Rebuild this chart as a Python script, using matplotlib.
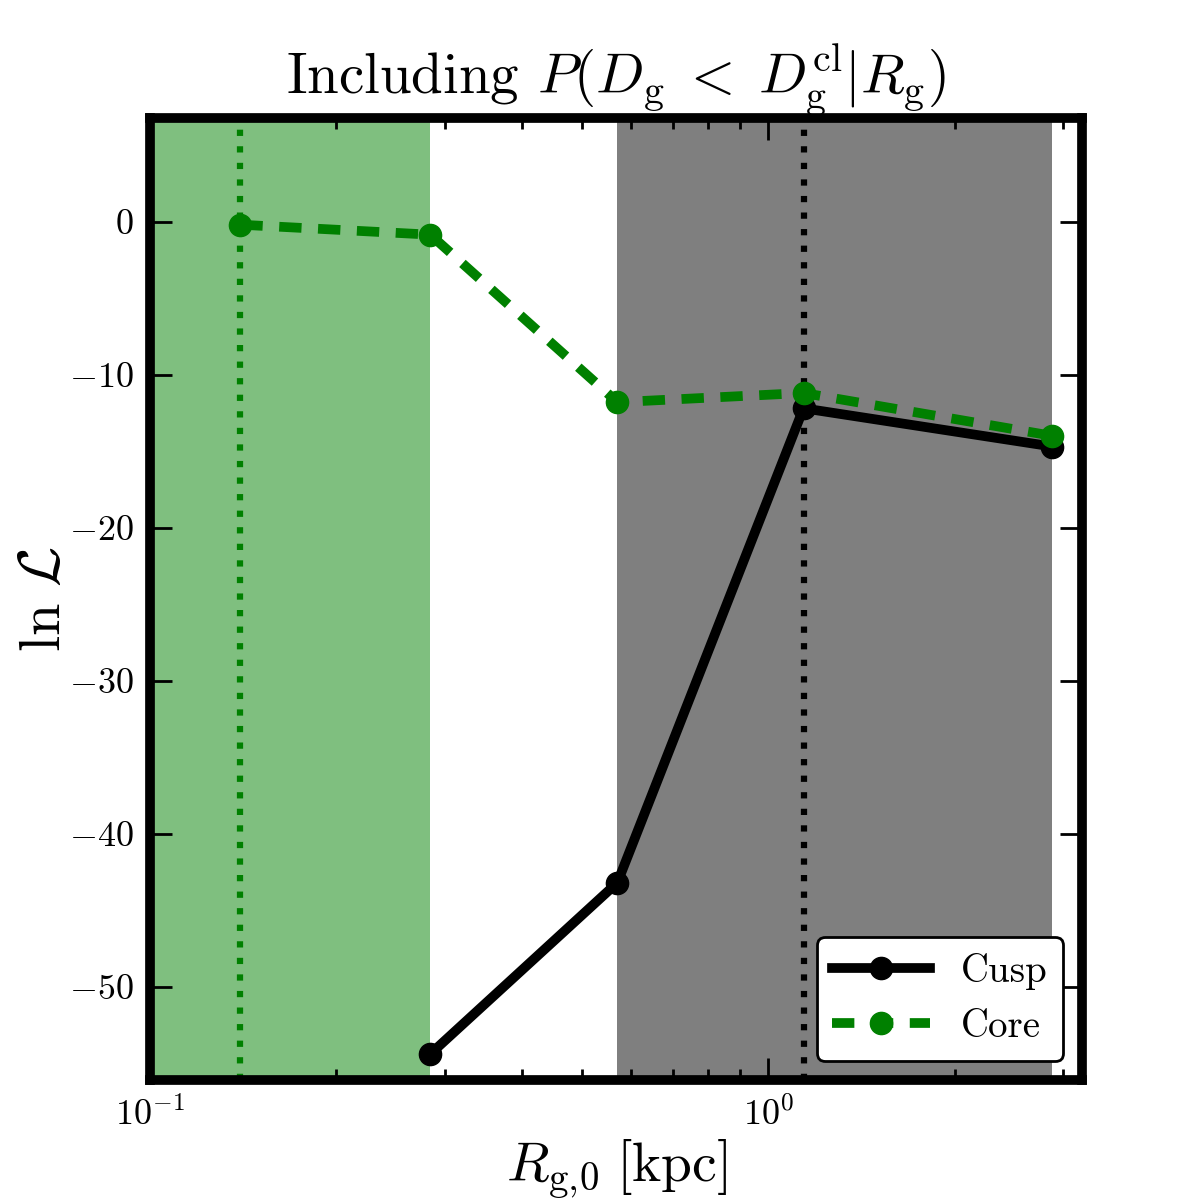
import matplotlib
matplotlib.use("Agg")
import matplotlib.pyplot as plt
from matplotlib.ticker import LogLocator, NullFormatter

plt.rcParams['font.family'] = 'serif'
plt.rcParams['font.serif'] = ['cmr10', 'DejaVu Serif']
plt.rcParams['mathtext.fontset'] = 'cm'
plt.rcParams['axes.formatter.use_mathtext'] = True
plt.rcParams['axes.unicode_minus'] = True

# Data
r_cusp = [0.284, 0.57, 1.14, 2.88]
lnL_cusp = [-54.4, -43.2, -12.2, -14.7]
r_core = [0.14, 0.284, 0.57, 1.14, 2.88]
lnL_core = [-0.2, -0.85, -11.8, -11.2, -14.0]
green_band = [0.1, 0.284]
grey_band = [0.57, 2.88]
core_best = 0.14
cusp_best = 1.14

fig = plt.figure(figsize=(12, 12), dpi=100)
ax = fig.add_axes([0.125, 0.1, 0.777, 0.802])

ax.axvspan(green_band[0], green_band[1], color='green', alpha=0.5, lw=0)
ax.axvspan(grey_band[0], grey_band[1], color='black', alpha=0.5, lw=0)
ax.axvline(core_best, color='green', ls=':', lw=4.5)
ax.axvline(cusp_best, color='black', ls=':', lw=4.5)

ax.plot(r_cusp, lnL_cusp, '-', color='black', lw=7, marker='o', ms=16, label='Cusp')
ax.plot(r_core, lnL_core, color='green', lw=7, marker='o', ms=16, label='Core',
        linestyle=(0, (2.3, 1.7)))

ax.set_xscale('log')
ax.set_xlim(0.1, 3.22)
ax.set_ylim(-56.1, 6.8)
ax.set_yticks([0, -10, -20, -30, -40, -50])

ax.xaxis.set_major_locator(LogLocator(base=10))
ax.xaxis.set_minor_locator(LogLocator(base=10, subs=range(2, 10)))
ax.xaxis.set_minor_formatter(NullFormatter())

for s in ax.spines.values():
    s.set_linewidth(7)
ax.tick_params(which='both', direction='in', top=True, right=True)
ax.tick_params(which='major', length=16, width=2, labelsize=26, pad=12)
ax.tick_params(which='minor', length=8, width=2)

ax.set_xlabel(r'$R_{{\rm g},\!0}\;[{\rm kpc}]$', fontsize=40, labelpad=4)
ax.set_ylabel(r'$\ln\,\mathcal{L}$', fontsize=42, labelpad=-2)
ax.set_title(r'Including $P(D_{\rm g}\;<\;D_{\rm g}^{\rm cl}|R_{\rm g})$', fontsize=41, pad=14)

leg = ax.legend(loc='lower right', fontsize=28, framealpha=1, edgecolor='black',
                fancybox=True, handlelength=2.5)
leg.get_frame().set_linewidth(2)

fig.savefig('out.png', dpi=100)
